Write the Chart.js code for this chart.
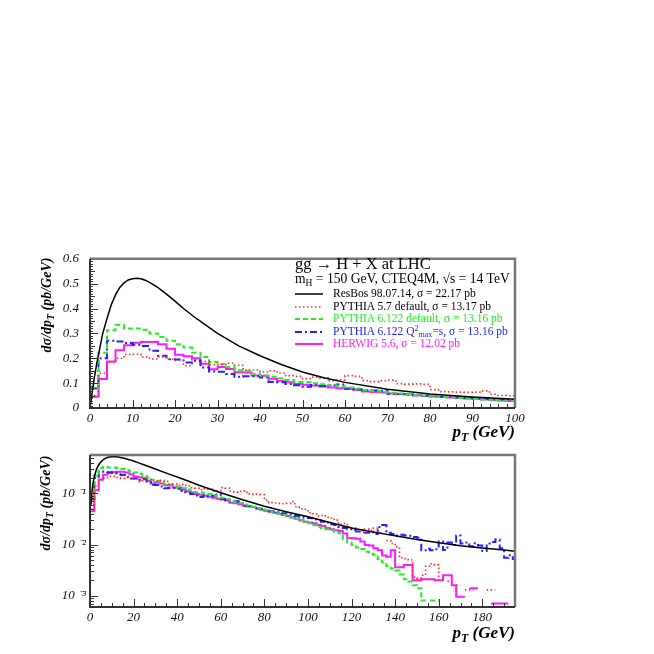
<!DOCTYPE html>
<html>
<head>
<meta charset="utf-8">
<script src="https://cdn.jsdelivr.net/npm/chart.js@4/dist/chart.umd.min.js"></script>
<style>
body { margin:0; background:#fff; width:654px; height:654px; position:relative; overflow:hidden; font-family:"Liberation Serif","DejaVu Serif",serif; }
canvas { position:absolute; left:0; }
.lbl { position:absolute; white-space:nowrap; line-height:1; color:#000; }
.sub { font-size:70%; position:relative; top:0.3em; }
.sup { font-size:70%; position:relative; top:-0.45em; }
.ytitle { font-weight:bold; font-style:italic; font-size:14px; transform:translate(-50%,-50%) rotate(-90deg); }
.xtitle { font-weight:bold; font-style:italic; font-size:17px; }
.row { position:absolute; left:295px; font-size:11.5px; white-space:nowrap; line-height:1; display:flex; align-items:center; }
.row svg { margin-right:10px; }
</style>
</head>
<body>
<canvas id="topChart" width="560" height="205" style="top:240px"></canvas>
<canvas id="bottomChart" width="560" height="210" style="top:440px"></canvas>

<div class="lbl ytitle" style="left:47px;top:305px">d&sigma;/dp<span class="sub">T</span> (pb/GeV)</div>
<div class="lbl ytitle" style="left:46px;top:503px">d&sigma;/dp<span class="sub">T</span> (pb/GeV)</div>
<div class="lbl xtitle" style="right:139px;top:423px">p<span class="sub">T</span> (GeV)</div>
<div class="lbl xtitle" style="right:139px;top:624px">p<span class="sub">T</span> (GeV)</div>

<div class="lbl" style="left:295px;top:256px;font-size:16.5px">gg &rarr; H + X at LHC</div>
<div class="lbl" style="left:295px;top:272px;font-size:13.6px">m<span class="sub">H</span> = 150 GeV, CTEQ4M, &radic;s = 14 TeV</div>
<div id="legend"></div>

<script>
// pT bins of 2 GeV, 0 .. 196
var BIN = 2;

// ResBos 98.07.14 (smooth curve)
var resbosPt = [0, 0.5, 1, 1.5, 2, 3, 4, 5, 6, 7, 8, 9, 10, 11, 12, 13, 14, 16, 18, 20, 22, 25, 30, 35, 40, 45, 50, 55, 60, 70, 80, 90, 100, 110, 120, 130, 140, 150, 160, 170, 180, 190, 195];
var resbosVal = [0, 0.06, 0.12, 0.17, 0.215, 0.3, 0.36, 0.415, 0.455, 0.485, 0.503, 0.515, 0.52, 0.522, 0.52, 0.514, 0.505, 0.484, 0.458, 0.43, 0.40, 0.36, 0.30, 0.25, 0.21, 0.175, 0.145, 0.122, 0.103, 0.075, 0.056, 0.044, 0.035, 0.027, 0.021, 0.0175, 0.0148, 0.0125, 0.0108, 0.0095, 0.0086, 0.0078, 0.0074];

// PYTHIA 5.7 default (red, dotted)
var pythia57 = [0.05, 0.14, 0.183, 0.2, 0.215, 0.216, 0.205, 0.197, 0.205, 0.196,
  0.192, 0.17, 0.196, 0.187, 0.175, 0.174, 0.18, 0.172, 0.152, 0.153,
  0.145, 0.15, 0.141, 0.13, 0.127, 0.118, 0.124, 0.121, 0.11, 0.113,
  0.13, 0.127, 0.11, 0.106, 0.11, 0.112, 0.098, 0.096, 0.097, 0.095,
  0.074, 0.066, 0.065, 0.064, 0.063, 0.064, 0.069, 0.055, 0.05, 0.049,
  0.042, 0.04, 0.036, 0.037, 0.034, 0.033, 0.03, 0.025, 0.026, 0.022,
  0.021, 0.018, 0.0175, 0.02, 0.019, 0.021, 0.017, 0, 0.012, 0.0105,
  0.009, 0.0055, 0.0053, 0.005, 0.0023, 0.0022, 0.0025, 0.0038, 0.0042, 0.004,
  0.002, 0, 0.0019, 0, 0.0016, 0, 0.0013, 0.0013, 0, 0,
  0, 0.0013, 0.0013, 0, 0, 0, 0, 0];

// PYTHIA 6.122 default (green, dashed)
var pythia6 = [0.082, 0.222, 0.313, 0.334, 0.32, 0.32, 0.315, 0.3, 0.286, 0.27,
  0.256, 0.243, 0.222, 0.205, 0.185, 0.177, 0.165, 0.152, 0.15, 0.138,
  0.131, 0.126, 0.12, 0.113, 0.105, 0.104, 0.1, 0.096, 0.091, 0.086,
  0.082, 0.078, 0.072, 0.068, 0.065, 0.061, 0.058, 0.055, 0.052, 0.049,
  0.047, 0.044, 0.042, 0.04, 0.038, 0.036, 0.034, 0.032, 0.03, 0.028,
  0.026, 0.024, 0.022, 0.021, 0.02, 0.019, 0.0175, 0.0166, 0.013, 0.011,
  0.0098, 0.0088, 0.0082, 0.0072, 0.0066, 0.0063, 0.0052, 0.0045, 0.0038, 0.0034,
  0.0031, 0.0026, 0.0021, 0.0019, 0.0016, 0.0014, 0.0008, 0, 0.0008, 0.0008,
  0, 0, 0, 0, 0, 0, 0, 0, 0, 0,
  0, 0, 0, 0, 0, 0, 0, 0];

// PYTHIA 6.122 Q2max = s (blue, dash-dot)
var pythia6q = [0.078, 0.2, 0.27, 0.267, 0.261, 0.254, 0.249, 0.23, 0.21, 0.196,
  0.195, 0.183, 0.19, 0.163, 0.147, 0.146, 0.137, 0.126, 0.128, 0.128,
  0.123, 0.105, 0.104, 0.097, 0.091, 0.085, 0.092, 0.088, 0.09, 0.095,
  0.078, 0.074, 0.071, 0.07, 0.069, 0.057, 0.056, 0.054, 0.051, 0.05,
  0.047, 0.045, 0.044, 0.043, 0.041, 0.039, 0.038, 0.036, 0.035, 0.034,
  0.033, 0.031, 0.03, 0.028, 0.027, 0.025, 0.024, 0.022, 0.021, 0.02,
  0.019, 0.018, 0.019, 0.017, 0.018, 0.016, 0.022, 0.024, 0.017, 0.016,
  0.015, 0.0155, 0.015, 0.0148, 0.014, 0.0136, 0.0077, 0.0083, 0.0077, 0.0081,
  0.0115, 0.0078, 0.011, 0.0098, 0.015, 0.0105, 0.011, 0.0093, 0.0106, 0.0096,
  0.0075, 0.0105, 0.0112, 0.0125, 0.0085, 0.0055, 0.0062, 0.0052];

// HERWIG 5.6 (magenta, solid)
var herwig = [0.045, 0.117, 0.187, 0.232, 0.252, 0.262, 0.265, 0.265, 0.256, 0.238,
  0.214, 0.208, 0.2, 0.178, 0.156, 0.165, 0.157, 0.144, 0.143, 0.131,
  0.13, 0.118, 0.11, 0.104, 0.097, 0.094, 0.09, 0.086, 0.082, 0.079,
  0.076, 0.073, 0.066, 0.064, 0.062, 0.058, 0.056, 0.054, 0.051, 0.048,
  0.046, 0.044, 0.042, 0.04, 0.038, 0.036, 0.034, 0.032, 0.03, 0.028,
  0.027, 0.026, 0.024, 0.023, 0.021, 0.02, 0.019, 0.0185, 0.0165, 0.0135,
  0.0133, 0.013, 0.0115, 0.0098, 0.0096, 0.0085, 0.0077, 0.0061, 0.0058, 0.0077,
  0.0036, 0.0036, 0.004, 0.004, 0.002, 0.002, 0.0021, 0.0021, 0.0021, 0.002,
  0.002, 0.0025, 0.0025, 0.0016, 0.00095, 0.00095, 0, 0.0014, 0.0014, 0,
  0, 0, 0.0007, 0.0007, 0.0007, 0.0007, 0, 0];

var seriesLabels = [
  'ResBos 98.07.14, &sigma; = 22.17 pb',
  'PYTHIA 5.7 default, &sigma; = 13.17 pb',
  'PYTHIA 6.122 default, &sigma; = 13.16 pb',
  'PYTHIA 6.122 Q<span class="sup">2</span><span class="sub">max</span>=s, &sigma; = 13.16 pb',
  'HERWIG 5.6, &sigma; = 12.02 pb'
];
var lineColors = ['#000000', '#ff2a2a', '#22ee22', '#2222ff', '#ff1aff'];
var textColors = ['#000000', '#000000', '#22ee22', '#2222ff', '#ff1aff'];
var lineDashes = [[], [1.5, 2.5], [5, 3], [7, 3, 2, 3], []];
var lineWidths = [1.5, 1.6, 2, 2, 2];

// legend rows
var legendHtml = '';
var rowTops = [288, 301, 313, 326, 338];
seriesLabels.forEach(function (txt, i) {
    legendHtml += '<div class="row" style="top:' + rowTops[i] + 'px;color:' + textColors[i] + '">' +
        '<svg width="28" height="6"><line x1="0" y1="3" x2="28" y2="3" stroke="' + lineColors[i] +
        '" stroke-width="' + lineWidths[i] + '" stroke-dasharray="' + lineDashes[i].join(' ') + '"/></svg>' +
        '<span>' + txt + '</span></div>';
});
document.getElementById('legend').innerHTML = legendHtml;

function histPoints(vals) {
    var pts = [];
    vals.forEach(function (v, i) {
        pts.push({ x: i * BIN, y: v });
        pts.push({ x: (i + 1) * BIN, y: v });
    });
    return pts;
}

function curvePoints(xs, ys) {
    return xs.map(function (x, i) { return { x: x, y: ys[i] }; });
}

function makeDatasets() {
    var all = [curvePoints(resbosPt, resbosVal), histPoints(pythia57), histPoints(pythia6), histPoints(pythia6q), histPoints(herwig)];
    return all.map(function (pts, i) {
        return {
            data: pts,
            borderColor: lineColors[i],
            borderWidth: lineWidths[i],
            borderDash: lineDashes[i],
            pointRadius: 0,
            tension: 0,
            fill: false
        };
    });
}

// inward ticks + frame, ROOT style
function frameTicks(xTicks, yTicks) {
    return {
        id: 'frameTicks',
        afterDatasetsDraw: function (chart) {
            var ctx = chart.ctx, a = chart.chartArea, x = chart.scales.x, y = chart.scales.y;
            ctx.save();
            ctx.strokeStyle = '#333';
            ctx.lineWidth = 1;
            ctx.beginPath();
            xTicks.forEach(function (t) {
                var px = Math.round(x.getPixelForValue(t[0])) + 0.5;
                ctx.moveTo(px, a.bottom);
                ctx.lineTo(px, a.bottom - t[1]);
            });
            yTicks.forEach(function (t) {
                var py = Math.round(y.getPixelForValue(t[0])) + 0.5;
                ctx.moveTo(a.left, py);
                ctx.lineTo(a.left + t[1], py);
            });
            ctx.stroke();
            ctx.lineWidth = 2.5;
            ctx.strokeStyle = '#777';
            ctx.beginPath();
            ctx.moveTo(a.left, a.top);
            ctx.lineTo(a.right, a.top);
            ctx.lineTo(a.right, a.bottom);
            ctx.stroke();
            ctx.lineWidth = 2;
            ctx.strokeStyle = '#333';
            ctx.beginPath();
            ctx.moveTo(a.left, a.top);
            ctx.lineTo(a.left, a.bottom);
            ctx.lineTo(a.right, a.bottom);
            ctx.stroke();
            ctx.restore();
        }
    };
}

var tickFont = { family: 'Liberation Serif', size: 13, style: 'italic' };

// top panel ticks
var topXTicks = [];
for (var i = 0; i <= 100; i += 2) topXTicks.push([i, i % 10 === 0 ? 8 : 4]);
var topYTicks = [];
for (var j = 0; j <= 60; j++) topYTicks.push([j / 100, j % 10 === 0 ? 8 : (j % 5 === 0 ? 5 : 3)]);

// bottom panel ticks
var botXTicks = [];
for (var k = 0; k <= 195; k += 5) botXTicks.push([k, k % 20 === 0 ? 8 : 4]);
var botYTicks = [];
[-4, -3, -2, -1].forEach(function (e) {
    for (var m = 1; m <= 9; m++) {
        var v = m * Math.pow(10, e);
        if (v >= 6.1e-4 && v <= 0.565) botYTicks.push([v, m === 1 ? 8 : 4]);
    }
});

var supDigits = { '-1': '\u207B\u00B9', '-2': '\u207B\u00B2', '-3': '\u207B\u00B3' };

new Chart(document.getElementById('topChart'), {
    type: 'line',
    data: { datasets: makeDatasets() },
    options: {
        responsive: false,
        animation: false,
        layout: { padding: { top: 15, right: 45, left: 0, bottom: 0 } },
        plugins: { legend: { display: false }, tooltip: { enabled: false } },
        scales: {
            x: {
                type: 'linear', min: 0, max: 100,
                grid: { display: false, drawTicks: false },
                border: { display: false },
                ticks: { stepSize: 10, padding: 3, font: tickFont, color: '#111', maxRotation: 0 },
                afterFit: function (s) { s.height = 37; }
            },
            y: {
                type: 'linear', min: 0, max: 0.6,
                grid: { display: false, drawTicks: false },
                border: { display: false },
                ticks: {
                    stepSize: 0.1, padding: 11, font: tickFont, color: '#111',
                    callback: function (v) { return v === 0 ? '0' : v.toFixed(1); }
                },
                afterFit: function (s) { s.width = 90; }
            }
        }
    },
    plugins: [frameTicks(topXTicks, topYTicks)]
});

new Chart(document.getElementById('bottomChart'), {
    type: 'line',
    data: { datasets: makeDatasets() },
    options: {
        responsive: false,
        animation: false,
        layout: { padding: { top: 15, right: 45, left: 0, bottom: 0 } },
        plugins: { legend: { display: false }, tooltip: { enabled: false } },
        scales: {
            x: {
                type: 'linear', min: 0, max: 195,
                grid: { display: false, drawTicks: false },
                border: { display: false },
                ticks: { stepSize: 20, includeBounds: false, padding: 3, font: tickFont, color: '#111', maxRotation: 0 },
                afterFit: function (s) { s.height = 43; }
            },
            y: {
                type: 'logarithmic', min: 6.1e-4, max: 0.565,
                grid: { display: false, drawTicks: false },
                border: { display: false },
                ticks: {
                    padding: 4, font: tickFont, color: '#111', autoSkip: false,
                    callback: function (v) {
                        var e = Math.log10(v);
                        var r = Math.round(e);
                        if (Math.abs(e - r) < 1e-6 && supDigits[String(r)]) return '10 ' + supDigits[String(r)];
                        return '';
                    }
                },
                afterFit: function (s) { s.width = 90; }
            }
        }
    },
    plugins: [frameTicks(botXTicks, botYTicks)]
});
</script>
</body>
</html>
